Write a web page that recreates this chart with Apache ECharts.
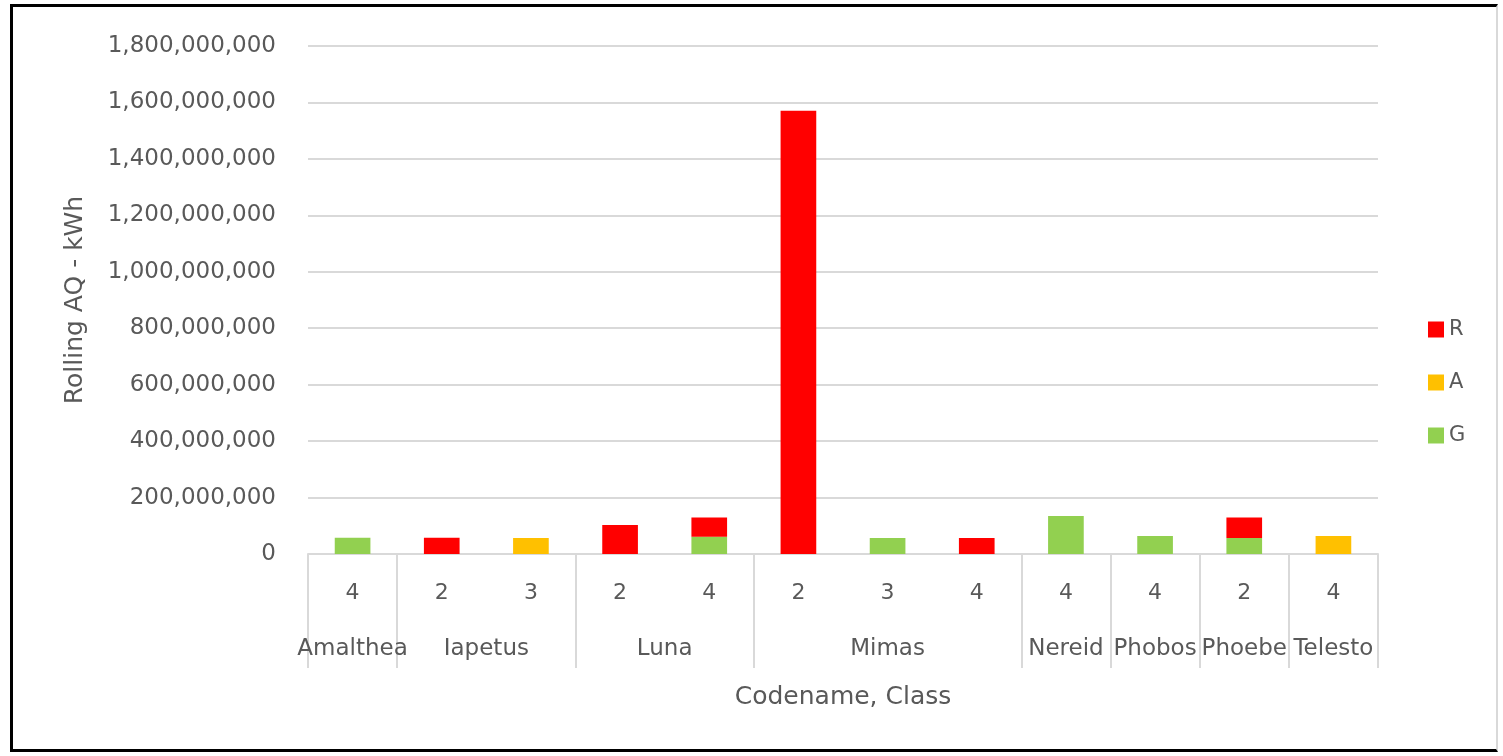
<!DOCTYPE html>
<html>
<head>
<meta charset="utf-8">
<script src="https://cdn.jsdelivr.net/npm/echarts@6/dist/echarts.min.js"></script>
<style>
  html, body { margin: 0; padding: 0; background: #fff; }
  #frame {
    position: absolute; left: 10px; top: 4px; width: 1488px; height: 748px;
    border-left: 3px solid #000; border-top: 3px solid #000; border-bottom: 3px solid #000;
    border-right: 2px solid #d9d9d9; box-sizing: border-box;
  }
  #chart { position: absolute; left: 0; top: 0; width: 1503px; height: 756px; }
</style>
</head>
<body>
<div id="frame"></div>
<div id="chart"></div>
<script>
// bar-level data (one entry per bar)
const codenames = ['Amalthea', 'Iapetus', 'Iapetus', 'Luna', 'Luna', 'Mimas', 'Mimas', 'Mimas', 'Nereid', 'Phobos', 'Phoebe', 'Telesto']
const classes = ['4', '2', '3', '2', '4', '2', '3', '4', '4', '4', '2', '4']
const seriesR = [null, 58e6, null, 103e6, 68e6, 1571e6, null, 57e6, null, null, 72e6, null]
const seriesA = [null, null, 57e6, null, null, null, null, null, null, null, null, 64e6]
const seriesG = [58e6, null, null, null, 61e6, null, 57e6, null, 135e6, 64e6, 57e6, null]
const yTicks = [0, 200e6, 400e6, 600e6, 800e6, 1000e6, 1200e6, 1400e6, 1600e6, 1800e6]

// group boundaries / centres for the outer codename level
const groups = []
codenames.forEach((n, i) => {
  const g = groups[groups.length - 1]
  if (g && g.name === n) g.end = i + 1
  else groups.push({ name: n, start: i, end: i + 1 })
})
const boundaries = [0].concat(groups.map(g => g.end))
const centres = groups.map(g => (g.start + g.end) / 2)
const centreName = {}
groups.forEach(g => { centreName[(g.start + g.end) / 2] = g.name })

const font = 'DejaVu Sans'
const grey = '#595959'
const chart = echarts.init(document.getElementById('chart'))

chart.setOption({
  animation: false,
  textStyle: { fontFamily: font },
  grid: { left: 308, right: 125, top: 46, bottom: 202, containLabel: false },
  legend: {
    data: ['R', 'A', 'G'],
    orient: 'vertical',
    left: 1423, top: 314,
    itemWidth: 16, itemHeight: 16, itemGap: 32,
    icon: 'rect',
    textStyle: { fontSize: 21, color: grey, fontFamily: font }
  },
  xAxis: [
    {
      type: 'category',
      data: classes,
      position: 'bottom',
      axisLine: { lineStyle: { color: '#d9d9d9', width: 2 } },
      axisTick: { show: false },
      axisLabel: { fontSize: 22, color: grey, margin: 28, interval: 0 },
      name: 'Codename, Class',
      nameLocation: 'middle',
      nameGap: 131,
      nameTextStyle: { fontSize: 25, color: grey }
    },
    {
      type: 'value',
      min: 0, max: codenames.length,
      position: 'bottom',
      axisLine: { show: false },
      splitLine: { show: false },
      axisTick: {
        show: true, inside: false, length: 114,
        customValues: boundaries,
        lineStyle: { color: '#d9d9d9', width: 2 }
      },
      axisLabel: {
        fontSize: 23, color: grey, margin: 84,
        customValues: centres,
        formatter: v => centreName[v] || ''
      }
    }
  ],
  yAxis: {
    type: 'value',
    min: 0, max: 1800e6, interval: 200e6,
    axisLine: { show: false },
    axisTick: { show: false },
    splitLine: { lineStyle: { color: '#d9d9d9', width: 2 } },
    axisLabel: {
      fontSize: 23, color: grey, margin: 32,
      formatter: v => yTicks.includes(v) ? v.toLocaleString('en-US') : ''
    },
    name: 'Rolling AQ - kWh',
    nameLocation: 'middle',
    nameGap: 220,
    nameRotate: 90,
    nameTextStyle: { fontSize: 25, color: grey }
  },
  series: [
    { name: 'G', type: 'bar', stack: 'x', data: seriesG, barWidth: '40%', itemStyle: { color: '#92d050' } },
    { name: 'A', type: 'bar', stack: 'x', data: seriesA, barWidth: '40%', itemStyle: { color: '#ffc000' } },
    { name: 'R', type: 'bar', stack: 'x', data: seriesR, barWidth: '40%', itemStyle: { color: '#ff0000' } }
  ]
})
</script>
</body>
</html>
